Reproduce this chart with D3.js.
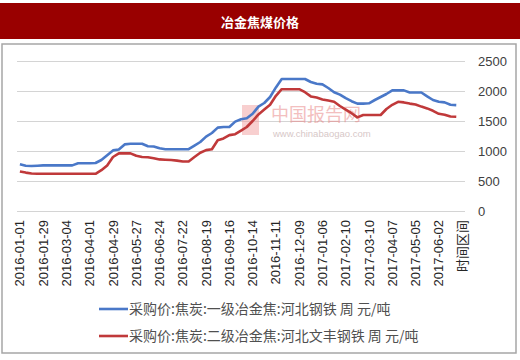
<!DOCTYPE html>
<html><head><meta charset="utf-8">
<script src="https://cdn.jsdelivr.net/npm/d3@7/dist/d3.min.js"></script>
<style>
body{margin:0;background:#fff;}
svg{display:block;font-family:"Liberation Sans","DejaVu Sans",sans-serif;}
</style></head><body>
<svg id="c" width="520" height="360"></svg>
<script>
const title = "冶金焦煤价格";
const categories = [
"2016-01-01","2016-01-08","2016-01-15","2016-01-22","2016-01-29","2016-02-05","2016-02-19","2016-02-26",
"2016-03-04","2016-03-11","2016-03-18","2016-03-25","2016-04-01","2016-04-08","2016-04-15","2016-04-22",
"2016-04-29","2016-05-06","2016-05-13","2016-05-20","2016-05-27","2016-06-03","2016-06-10","2016-06-17",
"2016-06-24","2016-07-01","2016-07-08","2016-07-15","2016-07-22","2016-07-29","2016-08-05","2016-08-12",
"2016-08-19","2016-08-26","2016-09-02","2016-09-09","2016-09-16","2016-09-23","2016-09-30","2016-10-07",
"2016-10-14","2016-10-21","2016-10-28","2016-11-04","2016-11-11","2016-11-18","2016-11-25","2016-12-02",
"2016-12-09","2016-12-16","2016-12-23","2016-12-30","2017-01-06","2017-01-13","2017-01-20","2017-02-03",
"2017-02-10","2017-02-17","2017-02-24","2017-03-03","2017-03-10","2017-03-17","2017-03-24","2017-03-31",
"2017-04-07","2017-04-14","2017-04-21","2017-04-28","2017-05-05","2017-05-12","2017-05-19","2017-05-26",
"2017-06-02","2017-06-09","2017-06-16","2017-06-23","时间区间"];
const seriesNames = ["采购价:焦炭:一级冶金焦:河北钢铁 周 元/吨","采购价:焦炭:二级冶金焦:河北文丰钢铁 周 元/吨"];
const grade1 = [780,755,750,755,760,760,760,760,760,760,795,795,795,800,850,930,1010,1025,1110,1120,
1120,1120,1080,1075,1045,1030,1030,1030,1030,1030,1090,1150,1240,1300,1390,1400,1400,1490,1530,1545,
1620,1740,1800,1900,2060,2200,2200,2200,2200,2200,2150,2120,2110,2050,1980,1940,1880,1830,1790,1790,
1795,1850,1900,1950,2010,2010,2010,1975,1975,1975,1910,1850,1820,1810,1770,1765];
const grade2 = [660,640,625,620,620,620,620,620,620,620,620,620,620,620,680,760,900,960,960,960,
920,900,895,880,860,855,850,840,825,825,900,970,1015,1030,1180,1210,1265,1280,1340,1400,
1500,1610,1690,1770,1920,2030,2030,2030,2030,1980,1910,1890,1860,1840,1820,1750,1690,1630,1560,1600,
1600,1600,1600,1700,1770,1820,1810,1790,1775,1740,1710,1670,1620,1605,1575,1570];
const yTicks = [0,500,1000,1500,2000,2500];
const colors = ["#4a78c8","#c0393a"];

const svg = d3.select("#c");
// title bar
svg.append("rect").attr("x",0).attr("y",3).attr("width",520).attr("height",36).attr("fill","#990000");
svg.append("text").attr("x",260).attr("y",27).attr("text-anchor","middle").attr("fill","#fff")
  .attr("font-size",13).attr("font-weight","bold").attr("font-family","'Noto Sans CJK SC',sans-serif").text(title);
// frame
svg.append("rect").attr("x",2).attr("y",44).attr("width",514).attr("height",309)
  .attr("fill","none").attr("stroke","#a6a6a6").attr("stroke-width",1.5);

const x = d3.scaleBand().domain(categories).range([17,465]);
const y = d3.scaleLinear().domain([0,2500]).range([211,61]);
const cx = c => x(c) + x.bandwidth()/2;

// gridlines
svg.append("g").attr("transform","translate(17,0)")
  .call(d3.axisRight(y).tickValues(yTicks).tickSize(448).tickFormat(""))
  .call(g=>g.select(".domain").remove())
  .call(g=>g.selectAll("line").attr("stroke","#d4d4d4"));

// watermark
const wm = svg.append("g").attr("opacity",0.5);
wm.append("rect").attr("x",242).attr("y",105).attr("width",17).attr("height",30).attr("fill","#f2a0a0");
wm.append("text").attr("x",271).attr("y",121).attr("font-size",18).attr("fill","#e88080")
  .attr("font-family","'Noto Sans CJK SC',sans-serif").text("中国报告网");
wm.append("text").attr("x",273).attr("y",137).attr("font-size",9.5).attr("fill","#b09090").text("www.chinabaogao.com");

// y axis labels
svg.append("g").attr("transform","translate(465,0)")
  .call(d3.axisRight(y).tickValues(yTicks).tickSize(0).tickPadding(13).tickFormat(d3.format("d")))
  .call(g=>g.select(".domain").remove())
  .call(g=>g.selectAll("text").attr("font-size",13).attr("fill","#404040").attr("font-family","'Liberation Sans',sans-serif"));

// x axis
svg.append("g").attr("transform","translate(0,211)")
  .call(d3.axisBottom(x).tickValues(categories.filter((d,i)=>i%4===0)).tickSize(0))
  .call(g=>g.select(".domain").remove())
  .call(g=>g.selectAll("text").attr("transform","rotate(-90)").attr("x",-9).attr("y",0).attr("dy","0.35em")
     .attr("text-anchor","end").attr("font-size",13).attr("fill","#262626")
     .attr("font-family","'Liberation Sans','Noto Sans CJK SC',sans-serif"));

// lines
const line = d3.line().x((d,i)=>cx(categories[i])).y(d=>y(d));
[grade1,grade2].forEach((s,k)=>{
  svg.append("path").datum(s).attr("d",line).attr("fill","none").attr("stroke",colors[k])
    .attr("stroke-width",2.6).attr("stroke-linejoin","round");
});

// legend
seriesNames.forEach((n,k)=>{
  const yy = 309 + k*27;
  svg.append("line").attr("x1",99).attr("x2",128).attr("y1",yy).attr("y2",yy).attr("stroke",colors[k]).attr("stroke-width",2.6);
  svg.append("text").attr("x",129).attr("y",yy+5).attr("font-size",14).attr("fill","#505050")
    .attr("font-family","'Noto Sans CJK SC',sans-serif").text(n);
});
</script></body></html>
